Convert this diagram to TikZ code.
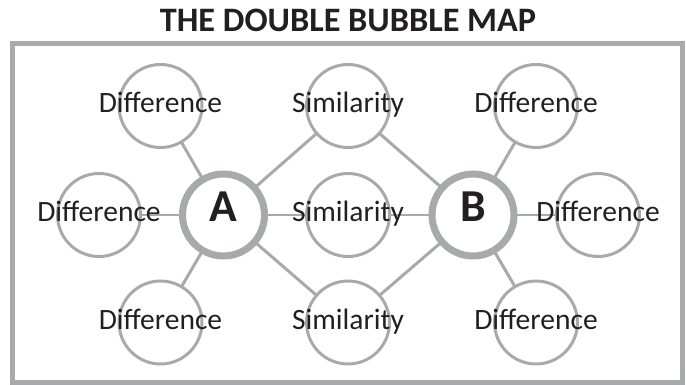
\documentclass[tikz,border=0pt]{standalone}
\usepackage{fontspec}
\setmainfont{Carlito}
\usepackage{tikz}
\definecolor{bubblegray}{HTML}{A7A9AC}
\definecolor{ink}{HTML}{231F20}

\begin{document}
\begin{tikzpicture}[
			x=0.02cm, y=-0.02cm,
			bubble/.style={draw=bubblegray, circle, line width=1.7pt, minimum size=1.66cm, inner sep=0pt, outer sep=0pt},
			topic/.style={bubble, line width=4pt, minimum size=1.64cm},
			word/.style={text=ink, inner sep=0pt, text height=0.74em, text depth=0pt, font=\fontsize{16.8pt}{20pt}\selectfont},
			letter/.style={word, font=\fontsize{26pt}{30pt}\selectfont\bfseries},
			link/.style={draw=bubblegray, line width=1.7pt}
			]
			\useasboundingbox (0,0) rectangle (686,385);
			\node[word, font=\fontsize{19.5pt}{24pt}\selectfont\bfseries] (title) at (348,25) {THE DOUBLE BUBBLE MAP};
			\draw[bubblegray, line width=3.1pt] (12.5,43.5) rectangle (682.5,382.5);
			
			\node[topic] (a) at (223.5,215) {};
			\node[topic] (b) at (473,215) {};
			\node[bubble] (simtop) at (348,106) {};
			\node[bubble] (simmid) at (348,215) {};
			\node[bubble] (simbot) at (348,322.5) {};
			\node[bubble] (difftl) at (160.5,106) {};
			\node[bubble] (diffl) at (99,215) {};
			\node[bubble] (diffbl) at (160.5,322.5) {};
			\node[bubble] (difftr) at (536,106) {};
			\node[bubble] (diffr) at (598,215) {};
			\node[bubble] (diffbr) at (536,322.5) {};
			
			\path[link] (a) edge (difftl);
			\path[link] (a) edge (diffl);
			\path[link] (a) edge (diffbl);
			\path[link] (a) edge (simtop);
			\path[link] (a) edge (simmid);
			\path[link] (a) edge (simbot);
			\path[link] (b) edge (simtop);
			\path[link] (b) edge (simmid);
			\path[link] (b) edge (simbot);
			\path[link] (b) edge (difftr);
			\path[link] (b) edge (diffr);
			\path[link] (b) edge (diffbr);
			
			\node[letter] (atext) at (a) {A};
			\node[letter] (btext) at (b) {B};
			\node[word] (simtoptext) at (simtop) {Similarity};
			\node[word] (simmidtext) at (simmid) {Similarity};
			\node[word] (simbottext) at (simbot) {Similarity};
			\node[word] (difftltext) at (difftl) {Difference};
			\node[word] (diffltext) at (diffl) {Difference};
			\node[word] (diffbltext) at (diffbl) {Difference};
			\node[word] (difftrtext) at (difftr) {Difference};
			\node[word] (diffrtext) at (diffr) {Difference};
			\node[word] (diffbrtext) at (diffbr) {Difference};
		\end{tikzpicture}
\end{document}
